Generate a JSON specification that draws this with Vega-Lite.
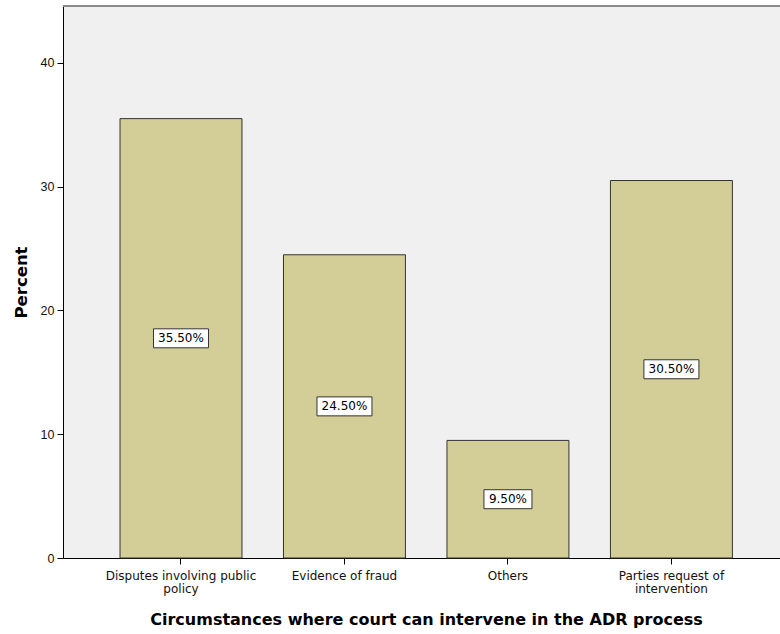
{
  "$schema": "https://vega.github.io/schema/vega-lite/v6.json",
  "width": 717,
  "height": 552,
  "autosize": "none",
  "padding": {"left": 63, "top": 6, "right": 0, "bottom": 76},
  "background": "white",
  "config": {
    "view": {"stroke": null, "fill": "#f0f0f0"},
    "font": "DejaVu Sans",
    "axis": {"domainColor": "#000", "tickColor": "#000", "labelColor": "#111", "titleColor": "#000", "grid": false}
  },
  "data": {
    "values": [
      {"category": "Disputes involving public policy", "pct": 35.5, "label": "35.50%"},
      {"category": "Evidence of fraud", "pct": 24.5, "label": "24.50%"},
      {"category": "Others", "pct": 9.5, "label": "9.50%"},
      {"category": "Parties request of intervention", "pct": 30.5, "label": "30.50%"}
    ]
  },
  "encoding": {
    "x": {
      "field": "category",
      "type": "nominal",
      "sort": null,
      "scale": {"paddingInner": 0.254, "paddingOuter": 0.32, "align": 0.545},
      "axis": {
        "title": "Circumstances where court can intervene in the ADR process",
        "titleFont": "DejaVu Sans",
        "titleFontSize": 16,
        "titleFontWeight": "bold",
        "titlePadding": 17,
        "titleX": 363,
        "labelFont": "DejaVu Sans",
        "labelAngle": 0,
        "labelFontSize": 12,
        "labelPadding": 6,
        "labelLineHeight": 13.5,
        "tickSize": 6,
        "labelExpr": "datum.value == 'Disputes involving public policy' ? ['Disputes involving public', 'policy'] : datum.value == 'Parties request of intervention' ? ['Parties request of', 'intervention'] : datum.value"
      }
    }
  },
  "layer": [
    {
      "layer": [
        {
          "mark": {"type": "bar", "fill": "#d3ce97", "stroke": "#333333", "strokeWidth": 1},
          "encoding": {
            "y": {
              "field": "pct",
              "type": "quantitative",
              "scale": {"domain": [0, 44.6], "nice": false},
              "axis": {
                "title": "Percent",
                "titleFont": "DejaVu Sans",
                "titleFontSize": 16.5,
                "titleFontWeight": "bold",
                "titlePadding": 11,
                "labelFont": "Liberation Sans",
                "labelFontSize": 12.5,
                "labelPadding": 3,
                "tickSize": 6,
                "values": [0, 10, 20, 30, 40]
              }
            }
          }
        },
        {
          "mark": {"type": "rule", "color": "#8a8a8a", "strokeWidth": 2},
          "encoding": {"y": {"datum": 44.6, "type": "quantitative"}, "x": null}
        }
      ]
    },
    {
      "layer": [
        {
          "mark": {
            "type": "point",
            "size": 3025,
            "filled": true,
            "fill": "white",
            "stroke": "#333333",
            "strokeWidth": 1,
            "opacity": 1
          },
          "encoding": {
            "y": {"field": "pct", "type": "quantitative", "scale": {"domain": [0, 89.2], "nice": false}, "axis": null},
            "shape": {
              "condition": {"test": "length(datum.label) < 6", "value": "M-0.873,-0.345L0.873,-0.345L0.873,0.345L-0.873,0.345Z"},
              "value": "M-1,-0.345L1,-0.345L1,0.345L-1,0.345Z"
            }
          }
        },
        {
          "mark": {"type": "text", "fontSize": 12, "font": "DejaVu Sans", "color": "#000", "baseline": "middle", "align": "center"},
          "encoding": {
            "y": {"field": "pct", "type": "quantitative", "scale": {"domain": [0, 89.2], "nice": false}, "axis": null},
            "text": {"field": "label"}
          }
        }
      ]
    }
  ],
  "resolve": {"scale": {"y": "independent"}, "axis": {"y": "independent"}}
}
